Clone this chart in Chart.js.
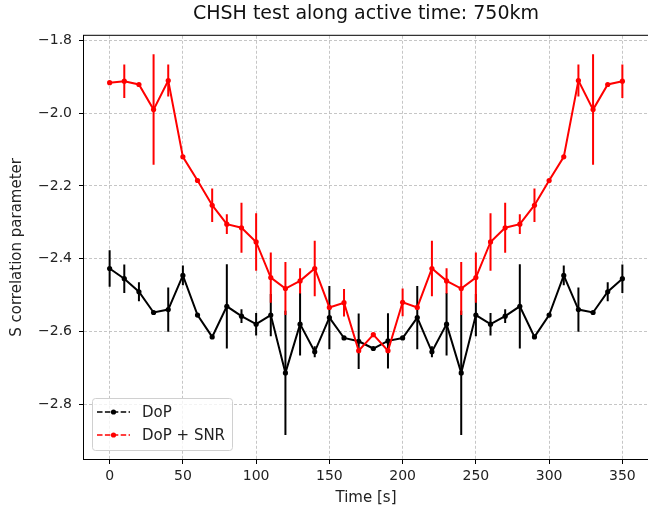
<!DOCTYPE html>
<html>
<head>
<meta charset="utf-8">
<script src="https://cdn.jsdelivr.net/npm/chart.js@4/dist/chart.umd.min.js"></script>
<style>
  html, body { margin: 0; padding: 0; background: #fff; overflow: hidden; }
  #wrap { width: 680px; height: 508px; }
</style>
</head>
<body>
<div id="wrap"><canvas id="myChart" width="680" height="508"></canvas></div>
<script>
// time axis [s]
const times = [0, 10, 20, 30, 40, 50, 60, 70, 80, 90, 100, 110, 120, 130, 140, 150, 160, 170,
               180, 190, 200, 210, 220, 230, 240, 250, 260, 270, 280, 290, 300, 310, 320, 330, 340, 350];

// DoP series (black)
const dop = [-2.427, -2.455, -2.491, -2.548, -2.540, -2.446, -2.555, -2.615, -2.531, -2.558, -2.580, -2.555,
             -2.714, -2.580, -2.656, -2.562, -2.618, -2.627, -2.647, -2.626, -2.618, -2.562, -2.656, -2.580,
             -2.714, -2.555, -2.580, -2.558, -2.531, -2.615, -2.555, -2.446, -2.540, -2.548, -2.491, -2.455];
const dopErr = [0.050, 0.039, 0.026, 0, 0.061, 0.027, 0, 0, 0.116, 0.019, 0.031, 0.058,
                0.171, 0.086, 0.015, 0.087, 0, 0.076, 0, 0.076, 0, 0.087, 0.015, 0.086,
                0.171, 0.058, 0.031, 0.019, 0.116, 0, 0, 0.027, 0.061, 0, 0.026, 0.039];

// DoP + SNR series (red)
const dopSnr = [-1.916, -1.912, -1.921, -1.990, -1.910, -2.120, -2.185, -2.253, -2.305, -2.315, -2.354, -2.452,
                -2.482, -2.461, -2.427, -2.534, -2.521, -2.653, -2.609, -2.653, -2.520, -2.534, -2.427, -2.461,
                -2.482, -2.452, -2.354, -2.315, -2.305, -2.253, -2.185, -2.120, -1.910, -1.990, -1.921, -1.912];
const dopSnrErr = [0, 0.046, 0, 0.152, 0.044, 0, 0, 0.046, 0.027, 0.069, 0.079, 0.069,
                   0.073, 0.035, 0.076, 0, 0.038, 0, 0, 0, 0.038, 0, 0.076, 0.035,
                   0.073, 0.069, 0.079, 0.069, 0.027, 0.046, 0, 0, 0.044, 0.152, 0, 0.046];

const xTicks = [0, 50, 100, 150, 200, 250, 300, 350];
const yTicks = [-2.8, -2.6, -2.4, -2.2, -2.0, -1.8];
const seriesNames = ['DoP', 'DoP + SNR'];
const seriesColors = ['#000000', '#ff0000'];

const FONT = "'DejaVu Sans', sans-serif";

function toPoints(ys) {
    return times.map((t, i) => ({ x: t, y: ys[i] }));
}

// vertical error bars, drawn under the lines
const errorBars = {
    id: 'errorBars',
    beforeDatasetsDraw(chart) {
        const ctx = chart.ctx;
        const xs = chart.scales.x, ys = chart.scales.y;
        const a = chart.chartArea;
        const sets = [[dop, dopErr, seriesColors[0]], [dopSnr, dopSnrErr, seriesColors[1]]];
        ctx.save();
        ctx.beginPath();
        ctx.rect(a.left, a.top, a.right - a.left, a.bottom - a.top);
        ctx.clip();
        ctx.lineWidth = 2;
        sets.forEach(([vals, errs, col]) => {
            ctx.strokeStyle = col;
            vals.forEach((v, i) => {
                if (!errs[i]) return;
                const px = xs.getPixelForValue(times[i]);
                ctx.beginPath();
                ctx.moveTo(px, ys.getPixelForValue(v - errs[i]));
                ctx.lineTo(px, ys.getPixelForValue(v + errs[i]));
                ctx.stroke();
            });
        });
        ctx.restore();
    }
};

// axes frame + legend box
const frameAndLegend = {
    id: 'frameAndLegend',
    afterDraw(chart) {
        const ctx = chart.ctx;
        const a = chart.chartArea;
        ctx.save();
        ctx.strokeStyle = '#000';
        ctx.lineWidth = 1;
        ctx.strokeRect(a.left - 0.5, a.top - 0.5, a.right - a.left + 1, a.bottom - a.top + 1);

        // legend
        const bx = 92, by = 398, bw = 140, bh = 52;
        ctx.beginPath();
        ctx.roundRect(bx + 0.5, by + 0.5, bw, bh, 3);
        ctx.fillStyle = 'rgba(255,255,255,0.8)';
        ctx.fill();
        ctx.strokeStyle = '#d0d0d0';
        ctx.stroke();

        seriesNames.forEach((name, i) => {
            const y = 412 + i * 23;
            ctx.strokeStyle = seriesColors[i];
            ctx.lineWidth = 1.6;
            ctx.setLineDash([5.5, 2.4]);
            ctx.beginPath();
            ctx.moveTo(97, y);
            ctx.lineTo(130, y);
            ctx.stroke();
            ctx.setLineDash([]);
            ctx.fillStyle = seriesColors[i];
            ctx.beginPath();
            ctx.arc(113.5, y, 2.6, 0, Math.PI * 2);
            ctx.fill();
            ctx.fillStyle = '#222';
            ctx.font = '15px ' + FONT;
            ctx.textBaseline = 'middle';
            ctx.textAlign = 'left';
            ctx.fillText(name, 142, y + 1);
        });
        ctx.restore();
    }
};

const gridOpts = {
    color: '#b8b8b8',
    lineWidth: 0.8,
    tickLength: 5,
    tickColor: '#000',
    tickWidth: 1,
    tickBorderDash: []
};

const ctx = document.getElementById('myChart').getContext('2d');
new Chart(ctx, {
    type: 'line',
    data: {
        datasets: [{
            label: seriesNames[0],
            data: toPoints(dop),
            borderColor: seriesColors[0],
            backgroundColor: seriesColors[0],
            borderWidth: 2,
            pointRadius: 2.6,
            pointBorderWidth: 0,
            tension: 0,
            order: 1
        }, {
            label: seriesNames[1],
            data: toPoints(dopSnr),
            borderColor: seriesColors[1],
            backgroundColor: seriesColors[1],
            borderWidth: 2,
            pointRadius: 2.6,
            pointBorderWidth: 0,
            tension: 0,
            order: 0
        }]
    },
    options: {
        responsive: false,
        animation: false,
        devicePixelRatio: 1,
        layout: { padding: { left: 0, right: 32, top: 0, bottom: 0 } },
        scales: {
            x: {
                type: 'linear',
                min: -17.5,
                max: 367.5,
                afterBuildTicks: (s) => { s.ticks = xTicks.map(v => ({ value: v })); },
                afterFit: (s) => { s.height = 49; },
                grid: gridOpts,
                border: { display: false, dash: [3, 2] },
                ticks: {
                    autoSkip: false,
                    maxRotation: 0,
                    padding: 4,
                    color: '#222',
                    font: { family: FONT, size: 14 },
                    callback: (v) => String(v)
                },
                title: {
                    display: true,
                    text: 'Time [s]',
                    color: '#222',
                    font: { family: FONT, size: 15 },
                    padding: { top: 0, bottom: 1 }
                }
            },
            y: {
                min: -2.9508,
                max: -1.7871,
                afterBuildTicks: (s) => { s.ticks = yTicks.map(v => ({ value: v })); },
                afterFit: (s) => { s.width = 84; },
                grid: gridOpts,
                border: { display: false, dash: [3, 2] },
                ticks: {
                    autoSkip: false,
                    padding: 7,
                    color: '#222',
                    font: { family: FONT, size: 14 },
                    callback: (v) => v.toFixed(1).replace('-', '\u2212')
                },
                title: {
                    display: true,
                    text: 'S correlation parameter',
                    color: '#222',
                    font: { family: FONT, size: 15 },
                    padding: { top: 8, bottom: 0 }
                }
            }
        },
        plugins: {
            legend: { display: false },
            tooltip: { enabled: false },
            title: {
                display: true,
                fullSize: false,
                text: 'CHSH test along active time: 750km',
                color: '#111',
                font: { family: FONT, size: 19, weight: 'normal' },
                padding: { top: 3, bottom: 10 }
            }
        }
    },
    plugins: [errorBars, frameAndLegend]
});
</script>
</body>
</html>
